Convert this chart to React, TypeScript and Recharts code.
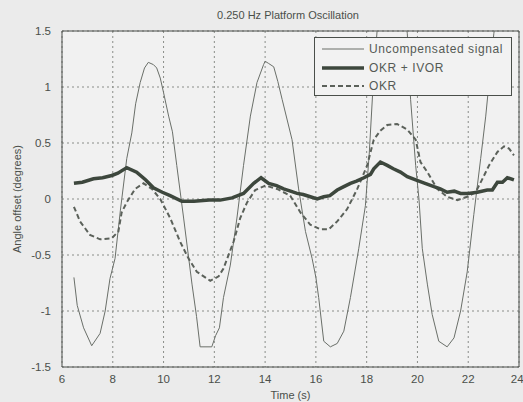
// 0.250 Hz platform oscillation — uncompensated vs OKR vs OKR + IVOR.
import { LineChart, Line, XAxis, YAxis, CartesianGrid, ReferenceArea } from 'recharts';

// ---------------------------------------------------------------------------
// Data
// ---------------------------------------------------------------------------

const uncompTime = [
  6.47, 6.6, 6.85, 7.17, 7.5, 7.7, 7.89, 8.09, 8.3, 8.55, 8.75, 8.9, 9.08, 9.25, 9.4, 9.6, 9.73, 9.87,
  10.0, 10.2, 10.35, 10.52, 10.79, 11.12, 11.3, 11.44, 11.9, 12.05, 12.2, 12.36, 12.63, 12.89, 13.15,
  13.42, 13.68, 13.94, 14.0, 14.14, 14.34, 14.5, 14.67, 15.06, 15.32, 15.59, 15.85, 16.0, 16.11, 16.31,
  16.57, 16.84, 17.1, 17.36, 17.69, 17.95, 18.1, 18.25, 18.41, 18.6, 18.9, 19.2, 19.45, 19.6, 19.73,
  19.93, 20.06, 20.19, 20.39, 20.58, 20.84, 21.17, 21.44, 21.7, 21.96, 22.22, 22.49, 22.69, 22.88,
  23.01, 23.2, 23.5, 23.8,
];
const uncompValue = [
  -0.7, -0.95, -1.15, -1.31, -1.2, -1.0, -0.71, -0.53, -0.1, 0.36, 0.59, 0.85, 1.04, 1.17, 1.22, 1.2, 1.17, 1.08,
  0.95, 0.74, 0.6, 0.3, -0.17, -0.76, -1.05, -1.32, -1.32, -1.22, -1.15, -0.88, -0.59, -0.17, 0.3,
  0.74, 1.04, 1.2, 1.23, 1.21, 1.18, 1.05, 0.89, 0.53, 0.09, -0.29, -0.53, -0.7, -0.88, -1.27,
  -1.32, -1.29, -1.18, -0.88, -0.44, -0.06, 0.4, 1.0, 1.5, 1.8, 1.95, 1.9, 1.7, 1.48, 0.89,
  0.3, 0.0, -0.44, -0.76, -1.03, -1.27, -1.32, -1.24, -1.0, -0.65, -0.14, 0.36, 0.74, 1.18,
  1.48, 1.75, 1.9, 1.95,
];

const okrIvorTime = [
  6.47, 6.8, 7.24, 7.6, 7.96, 8.2, 8.55, 8.94, 9.3, 9.6, 9.95, 10.26, 10.72, 11.2, 11.8, 12.23, 12.7,
  13.15, 13.55, 13.84, 14.14, 14.45, 14.73, 15.0, 15.26, 15.5, 15.78, 16.05, 16.31, 16.55, 16.84, 17.1,
  17.36, 17.6, 17.89, 18.15, 18.28, 18.54, 18.81, 19.05, 19.33, 19.6, 19.93, 20.3, 20.65, 20.9, 21.17,
  21.45, 21.7, 22.0, 22.36, 22.75, 22.95, 23.15, 23.35, 23.54, 23.8,
];
const okrIvorValue = [
  0.14, 0.15, 0.18, 0.19, 0.21, 0.23, 0.28, 0.24, 0.17, 0.1, 0.06, 0.03, -0.02, -0.02, -0.01, -0.01, 0.01,
  0.05, 0.14, 0.19, 0.14, 0.12, 0.09, 0.07, 0.05, 0.04, 0.02, 0.0, 0.02, 0.03, 0.08, 0.11,
  0.14, 0.16, 0.19, 0.22, 0.27, 0.33, 0.3, 0.27, 0.24, 0.2, 0.17, 0.14, 0.11, 0.09, 0.06,
  0.07, 0.05, 0.05, 0.06, 0.08, 0.08, 0.15, 0.15, 0.19, 0.17,
];

const okrTime = [
  6.47, 6.71, 7.1, 7.5, 7.96, 8.22, 8.35, 8.55, 8.88, 9.21, 9.54, 9.87, 10.26, 10.65, 10.98, 11.31, 11.84,
  12.17, 12.36, 12.76, 13.02, 13.29, 13.61, 14.01, 14.47, 14.99, 15.39, 15.78, 16.18, 16.51, 16.84,
  17.23, 17.63, 18.02, 18.28, 18.54, 18.81, 19.2, 19.6, 19.93, 20.12, 20.39, 20.78, 21.17, 21.57,
  21.96, 22.29, 22.56, 22.82, 23.15, 23.41, 23.61, 23.8,
];
const okrValue = [
  -0.07, -0.2, -0.32, -0.36, -0.35, -0.29, -0.12, -0.03, 0.09, 0.14, 0.09, 0.0, -0.17, -0.38, -0.53, -0.65, -0.73,
  -0.69, -0.62, -0.38, -0.17, -0.03, 0.08, 0.12, 0.09, 0.03, -0.12, -0.23, -0.27, -0.27, -0.2,
  -0.09, 0.09, 0.3, 0.53, 0.61, 0.66, 0.67, 0.62, 0.53, 0.33, 0.24, 0.09, 0.02, -0.01,
  0.02, 0.06, 0.18, 0.3, 0.42, 0.47, 0.45, 0.39,
];

const xTicks = [6, 8, 10, 12, 14, 16, 18, 20, 22, 24];
const yTicks = [-1.5, -1, -0.5, 0, 0.5, 1, 1.5];

const toPoints = (time: number[], value: number[]) => time.map((t, i) => ({ t, v: value[i] }));

const uncompData = toPoints(uncompTime, uncompValue);
const okrIvorData = toPoints(okrIvorTime, okrIvorValue);
const okrData = toPoints(okrTime, okrValue);

// ---------------------------------------------------------------------------
// Styles
// ---------------------------------------------------------------------------

const FONT = 'Liberation Sans, Arial, sans-serif';
const INK = '#4a4f4a';
const THIN = '#6a6f69';
const THICK = '#3d473d';
const DASH = '#5b615a';

const LEGEND_ITEMS = [
  { label: 'Uncompensated signal', color: THIN, width: 1, dash: undefined },
  { label: 'OKR + IVOR', color: THICK, width: 3.5, dash: undefined },
  { label: 'OKR', color: DASH, width: 2, dash: '5 3' },
];

function LegendBox() {
  return (
    <div
      style={{
        position: 'absolute',
        left: 314,
        top: 37,
        width: 198,
        height: 59,
        boxSizing: 'border-box',
        border: `1px solid ${INK}`,
        background: '#f2f2f2',
        padding: '2px 0 0 7px',
        fontFamily: FONT,
        fontSize: 12,
        letterSpacing: 0.6,
        color: '#555a55',
      }}
    >
      {LEGEND_ITEMS.map((item) => (
        <div key={item.label} style={{ display: 'flex', alignItems: 'center', height: 18.5 }}>
          <svg width={42} height={8} style={{ marginRight: 5 }}>
            <line
              x1={0}
              x2={42}
              y1={4}
              y2={4}
              stroke={item.color}
              strokeWidth={item.width}
              strokeDasharray={item.dash}
            />
          </svg>
          <span>{item.label}</span>
        </div>
      ))}
    </div>
  );
}

export default function App() {
  return (
    <div style={{ position: 'absolute', left: 0, top: 0, width: 523, height: 402, background: '#ebebeb' }}>
      <LineChart width={523} height={402} margin={{ top: 31, right: 4, bottom: 0, left: 0 }}>
        <CartesianGrid
          stroke="#8a8d89"
          strokeDasharray="2 3"
          fill="#f1f1f1"
          horizontalValues={yTicks}
          verticalValues={xTicks}
        />
        <XAxis
          dataKey="t"
          type="number"
          domain={[6, 24]}
          ticks={xTicks}
          allowDataOverflow
          height={35}
          tickLine={false}
          axisLine={false}
          tickMargin={2}
          tick={{ fontSize: 11.5, fill: INK, fontFamily: FONT }}
          label={{ value: 'Time (s)', position: 'insideBottom', offset: 3, fontSize: 11, fill: INK, fontFamily: FONT }}
        />
        <YAxis
          dataKey="v"
          type="number"
          domain={[-1.5, 1.5]}
          ticks={yTicks}
          allowDataOverflow
          width={62}
          tickLine={false}
          axisLine={false}
          tickMargin={5}
          tick={{ fontSize: 11.5, fill: INK, fontFamily: FONT }}
          label={{
            value: 'Angle offset (degrees)',
            angle: -90,
            position: 'insideLeft',
            offset: 17,
            style: { textAnchor: 'middle' },
            fontSize: 11,
            fill: INK,
            fontFamily: FONT,
          }}
        />
        <ReferenceArea x1={6} x2={24} y1={-1.5} y2={1.5} fill="none" stroke={INK} strokeWidth={1} />
        <Line
          data={uncompData}
          dataKey="v"
          name="Uncompensated signal"
          type="linear"
          stroke={THIN}
          strokeWidth={1}
          dot={false}
          isAnimationActive={false}
        />
        <Line
          data={okrData}
          dataKey="v"
          name="OKR"
          type="linear"
          stroke={DASH}
          strokeWidth={2}
          strokeDasharray="5 3"
          dot={false}
          isAnimationActive={false}
        />
        <Line
          data={okrIvorData}
          dataKey="v"
          name="OKR + IVOR"
          type="linear"
          stroke={THICK}
          strokeWidth={3.5}
          dot={false}
          isAnimationActive={false}
        />
        <text x={288} y={19} textAnchor="middle" fontSize={11} fill={INK} fontFamily={FONT}>
          0.250 Hz Platform Oscillation
        </text>
      </LineChart>
      <LegendBox />
    </div>
  );
}
